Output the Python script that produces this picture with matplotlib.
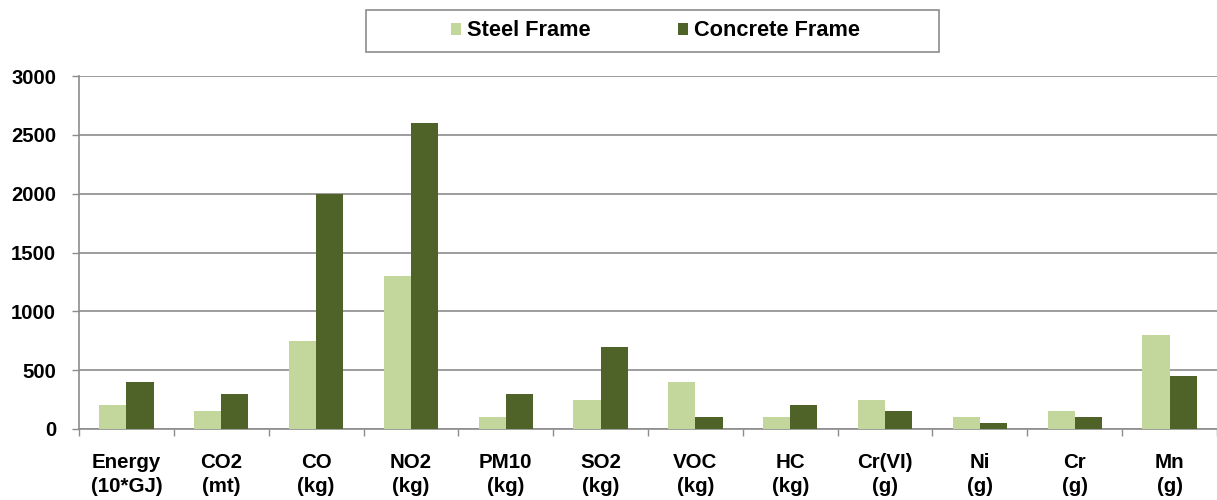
import matplotlib
matplotlib.use("Agg")
import matplotlib.pyplot as plt
import numpy as np
from matplotlib.patches import Rectangle

categories = ["Energy\n(10*GJ)", "CO2\n(mt)", "CO\n(kg)", "NO2\n(kg)", "PM10\n(kg)",
              "SO2\n(kg)", "VOC\n(kg)", "HC\n(kg)", "Cr(VI)\n(g)", "Ni\n(g)",
              "Cr\n(g)", "Mn\n(g)"]
steel = [200, 150, 750, 1300, 100, 250, 400, 100, 250, 100, 150, 800]
concrete = [400, 300, 2000, 2600, 300, 700, 100, 200, 150, 50, 100, 450]
series_names = ["Steel Frame", "Concrete Frame"]
yticks = [0, 500, 1000, 1500, 2000, 2500, 3000]

light = "#C3D69B"
dark = "#4F6228"
grid_col = "#8C8C8C"

plt.rcParams["font.family"] = ["Liberation Sans", "DejaVu Sans"]
plt.rcParams["font.weight"] = "bold"

W, H = 1217, 500
fig = plt.figure(figsize=(W / 100, H / 100), dpi=100)
ax = fig.add_axes([79 / W, (H - 429) / H, (W - 79) / W, (429 - 76) / H])

x = np.arange(len(categories))
bw = 1 / 3.5
ax.bar(x - bw / 2, steel, width=bw, color=light, label=series_names[0], zorder=3)
ax.bar(x + bw / 2, concrete, width=bw, color=dark, label=series_names[1], zorder=3)

ax.set_xlim(-0.5, len(categories) - 0.5)
ax.set_ylim(0, 3000)
ax.set_yticks(yticks)
ax.set_yticklabels([str(v) for v in yticks], fontsize=14.6, fontweight="bold")
ax.yaxis.grid(True, color=grid_col, linewidth=1.2, zorder=0)

# category labels centred under each group, ticks between groups
ax.set_xticks(x)
ax.set_xticklabels(categories, fontsize=14.8, fontweight="bold", linespacing=1.33)
ax.tick_params(axis="x", which="major", length=0, pad=17.5)
ax.set_xticks(np.arange(len(categories) + 1) - 0.5, minor=True)
ax.tick_params(axis="x", which="minor", length=5, color=grid_col, width=1, direction="out")
ax.tick_params(axis="y", length=5, color=grid_col, width=1, pad=11.5)

for s in ["top", "right"]:
    ax.spines[s].set_visible(False)
ax.spines["left"].set_color(grid_col)
ax.spines["bottom"].set_color(grid_col)
ax.spines["left"].set_linewidth(1.2)
ax.spines["bottom"].set_linewidth(1.2)

# legend with a separate rectangular frame
fig.patches.append(Rectangle((366 / W, 1 - 52 / H), (939 - 366) / W, 42 / H,
                             transform=fig.transFigure, facecolor="white",
                             edgecolor="#8C8C8C", linewidth=1.2))
handles, labels = ax.get_legend_handles_labels()
fig.legend(handles, labels, loc="center", bbox_to_anchor=(655.5 / W, 1 - 31 / H),
           ncol=2, frameon=False, prop={"size": 15.7, "weight": "bold"},
           handlelength=0.45, handleheight=0.45, handletextpad=0.3,
           columnspacing=4.0, borderpad=0, borderaxespad=0)

fig.savefig("out.png", dpi=100, facecolor="white")
